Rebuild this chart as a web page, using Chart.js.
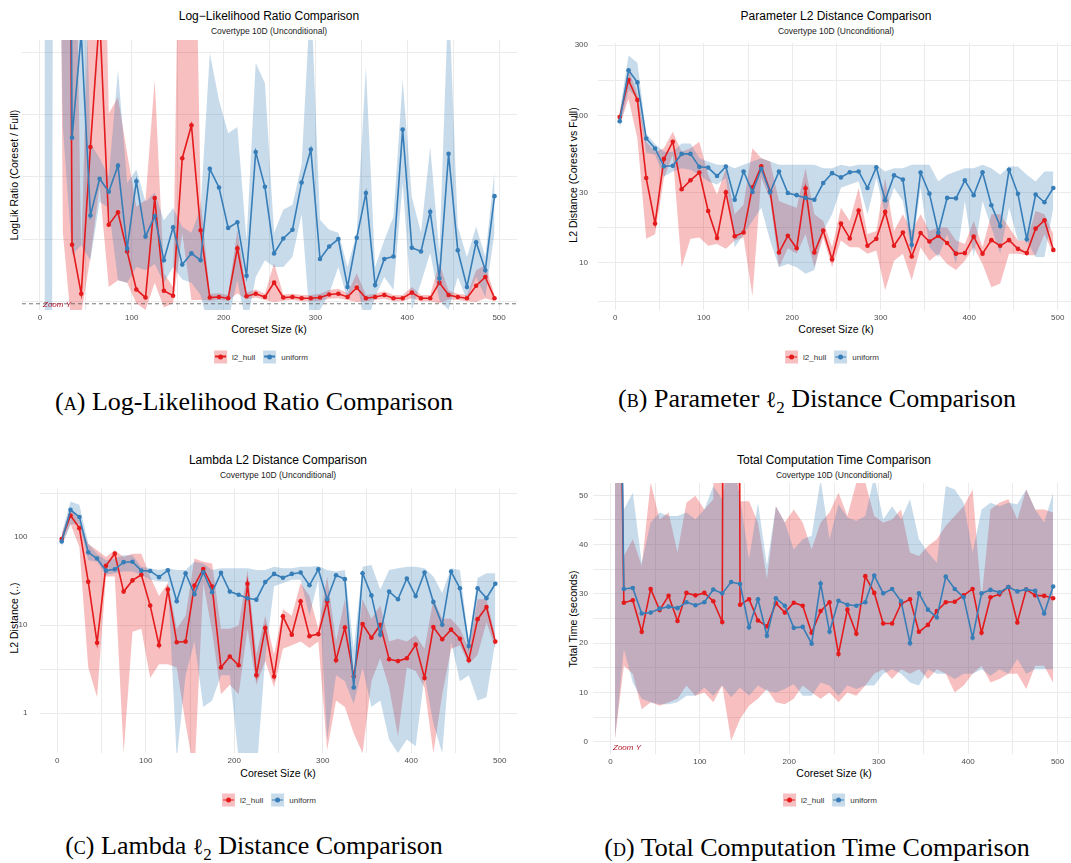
<!DOCTYPE html>
<html>
<head>
<meta charset="utf-8">
<script src="https://cdn.jsdelivr.net/npm/chart.js@4.4.1/dist/chart.umd.min.js"></script>
<style>
  body { margin:0; width:1071px; height:863px; overflow:hidden; background:#fff; position:relative;
         font-family:"Liberation Sans", Arial, sans-serif; }
  .abs { position:absolute; white-space:nowrap; transform:translate(-50%,-50%); }
  .title { font-size:12px; color:#000; }
  .sub { font-size:8.5px; color:#1a1a1a; }
  .axt { font-size:10.5px; color:#000; }
  .yt { transform:translate(-50%,-50%) rotate(-90deg); }
  .cap { font-family:"Liberation Serif", serif; font-size:26px; color:#000; }
  .sc { font-variant:small-caps; }
  .ell { font-family:"DejaVu Serif", serif; font-size:22px; }
  .legend { display:flex; align-items:center; font-size:8px; color:#333; }
  .sw { width:13px; height:13px; position:relative; margin-right:5px; }
  .sw i { position:absolute; left:1px; right:1px; top:5.7px; height:1.6px; }
  .sw b { position:absolute; left:4px; top:4px; width:5px; height:5px; border-radius:50%; }
  .gap { width:8px; }
  canvas { position:absolute; }
</style>
</head>
<body>

<!-- panel A -->
<div class="abs title" style="left:269px;top:16px">Log−Likelihood Ratio Comparison</div>
<div class="abs sub" style="left:269px;top:31px">Covertype 10D (Unconditional)</div>
<div class="abs axt yt" style="left:14px;top:175px">LogLik Ratio (Coreset / Full)</div>
<div class="abs axt" style="left:269px;top:329px">Coreset Size (k)</div>
<div class="abs legend" style="left:261px;top:356.5px">
  <div class="sw" style="background:rgba(228,26,28,0.28)"><i style="background:#E41A1C"></i><b style="background:#E41A1C"></b></div>l2_hull<div class="gap"></div>
  <div class="sw" style="background:rgba(55,126,184,0.28)"><i style="background:#377EB8"></i><b style="background:#377EB8"></b></div>uniform
</div>
<div class="abs cap" style="left:254px;top:402px">(<span class="sc">a</span>) Log-Likelihood Ratio Comparison</div>
<canvas id="chartA"></canvas>

<!-- panel B -->
<div class="abs title" style="left:836px;top:16px">Parameter L2 Distance Comparison</div>
<div class="abs sub" style="left:836px;top:31px">Covertype 10D (Unconditional)</div>
<div class="abs axt yt" style="left:573px;top:175px">L2 Distance (Coreset vs Full)</div>
<div class="abs axt" style="left:836px;top:329px">Coreset Size (k)</div>
<div class="abs legend" style="left:832px;top:357px">
  <div class="sw" style="background:rgba(228,26,28,0.28)"><i style="background:#E41A1C"></i><b style="background:#E41A1C"></b></div>l2_hull<div class="gap"></div>
  <div class="sw" style="background:rgba(55,126,184,0.28)"><i style="background:#377EB8"></i><b style="background:#377EB8"></b></div>uniform
</div>
<div class="abs cap" style="left:817px;top:401px">(<span class="sc">b</span>) Parameter <span class="ell">ℓ</span><sub style="font-size:17px">2</sub> Distance Comparison</div>
<canvas id="chartB"></canvas>

<!-- panel C -->
<div class="abs title" style="left:278px;top:460px">Lambda L2 Distance Comparison</div>
<div class="abs sub" style="left:278px;top:475px">Covertype 10D (Unconditional)</div>
<div class="abs axt yt" style="left:13.5px;top:618px">L2 Distance (..)</div>
<div class="abs axt" style="left:278px;top:773px">Coreset Size (k)</div>
<div class="abs legend" style="left:269px;top:800px">
  <div class="sw" style="background:rgba(228,26,28,0.28)"><i style="background:#E41A1C"></i><b style="background:#E41A1C"></b></div>l2_hull<div class="gap"></div>
  <div class="sw" style="background:rgba(55,126,184,0.28)"><i style="background:#377EB8"></i><b style="background:#377EB8"></b></div>uniform
</div>
<div class="abs cap" style="left:254px;top:848px">(<span class="sc">c</span>) Lambda <span class="ell">ℓ</span><sub style="font-size:17px">2</sub> Distance Comparison</div>
<canvas id="chartC"></canvas>

<!-- panel D -->
<div class="abs title" style="left:834px;top:460px">Total Computation Time Comparison</div>
<div class="abs sub" style="left:834px;top:475px">Covertype 10D (Unconditional)</div>
<div class="abs axt yt" style="left:572.5px;top:618.5px">Total Time (seconds)</div>
<div class="abs axt" style="left:834px;top:773px">Coreset Size (k)</div>
<div class="abs legend" style="left:830px;top:800px">
  <div class="sw" style="background:rgba(228,26,28,0.28)"><i style="background:#E41A1C"></i><b style="background:#E41A1C"></b></div>l2_hull<div class="gap"></div>
  <div class="sw" style="background:rgba(55,126,184,0.28)"><i style="background:#377EB8"></i><b style="background:#377EB8"></b></div>uniform
</div>
<div class="abs cap" style="left:817px;top:848px">(<span class="sc">d</span>) Total Computation Time Comparison</div>
<canvas id="chartD"></canvas>

<script>
// coreset sizes (k)
const coresetK = [5,15,25,35,45,55,65,75,85,95,105,115,125,135,145,155,165,175,185,195,
                  205,215,225,235,245,255,265,275,285,295,305,315,325,335,345,355,365,375,385,395,
                  405,415,425,435,445,455,465,475,485,495];
const xTicks = [0,50,100,150,200,250,300,350,400,450,500];

// (A) log-likelihood ratio, coreset / full (plotted on a zoomed window)
const llrHull   = [30,30,30,0.91,0.12,2.48,4.6,1.23,1.43,0.80,0.19,0.06,1.66,0.17,0.09,2.30,2.83,1.14,0.06,0.07,0.05,0.85,0.08,0.12,0.07,0.30,0.06,0.07,0.05,0.05,0.06,0.11,0.12,0.07,0.22,0.05,0.07,0.10,0.05,0.05,0.14,0.05,0.05,0.30,0.10,0.07,0.05,0.25,0.39,0.05];
const llrHullLo = [20,20,1.1,-0.5,-0.2,0.71,1.84,0.23,0.34,0.30,-0.03,-0.14,0.30,-0.10,-0.03,1.10,0.02,0.02,0.01,0.02,0.01,0.13,0.03,0.06,0.02,-0.01,0.01,0.02,0.00,0.00,0.01,0.04,0.05,0.02,-0.01,0.00,0.02,0.04,0.00,0.00,0.05,0.00,0.00,-0.03,0.03,0.02,0.00,-0.01,0.05,0.00];
const llrHullHi = [40,40,40,10,0.77,6,10,3.02,3.28,2.38,1.52,1.63,3.56,0.45,0.23,10,10,1.63,0.12,0.13,0.10,1.15,0.14,0.19,0.12,0.61,0.11,0.12,0.10,0.10,0.12,0.18,0.20,0.13,0.45,0.10,0.12,0.16,0.10,0.10,0.23,0.10,0.10,0.61,0.17,0.12,0.10,0.50,0.58,0.10];
const llrUnif   = [30,30,30,2.63,4.3,1.38,1.97,1.76,2.18,0.85,1.93,1.04,1.37,0.66,1.19,0.59,0.77,0.66,2.13,1.83,1.18,1.27,0.41,2.40,1.84,0.77,1.01,1.15,1.91,2.44,0.68,0.88,1.00,0.23,1.02,1.74,0.26,0.68,0.72,2.76,0.86,0.80,1.44,0.37,2.37,0.82,0.23,0.95,0.50,1.69];
const llrUnifLo = [-60,12,2.8,0.75,0.9,0.66,1.6,1.5,0.34,0.30,0.55,0.50,0.60,0.30,0.55,0.35,0.30,0.10,-0.5,-0.5,-0.3,0.34,-0.4,0.39,0.66,0.55,0.55,0.71,1.40,-0.5,-0.14,0.13,0.55,0.02,0.30,-0.4,0.07,0.39,0.18,1.90,-0.14,0.30,0.78,0.02,-0.14,0.39,0.02,0.39,0.07,1.10];
const llrUnifHi = [60,60,40,40,8,2.54,2.3,2.0,3.72,1.90,2.12,1.60,1.75,1.30,1.50,1.20,1.10,1.50,3.99,3.23,2.70,2.80,0.98,3.83,3.51,1.10,1.47,1.55,2.20,5,1.31,1.15,1.10,0.55,1.10,3.77,0.55,0.98,1.36,3.56,1.68,1.10,2.48,0.78,5,1.20,0.71,1.20,0.71,2.10];
const llrReference = -0.04;

// (B) parameter L2 distance, coreset vs full
const paramHull   = [97.4,173.5,127.3,37.5,18.4,50.6,66.2,31.5,36.2,40.9,22.4,14.7,30.0,15.1,16.0,32.5,45.1,30.5,11.7,15.2,12.5,32.0,11.7,16.5,10.5,18.4,14.6,22.6,13.0,14.5,22.1,13.0,16.0,11.0,15.9,13.9,15.2,13.6,11.5,11.6,15.0,11.5,14.2,13.0,14.2,12.4,11.6,17.0,19.4,12.2];
const paramHullLo = [85.7,129,70,14.5,15.6,37.5,53.8,9.3,14.5,14.8,13.0,13.4,12.4,14.1,14.8,5.9,37.5,27,9.3,12.5,11.5,15.6,9.3,14.8,9.3,14.1,12.7,12.7,11.5,12.1,6.5,10.3,11.5,7.6,12.7,10.3,11.5,9.8,8.9,10.3,12.7,9.8,6.8,7.2,11.5,11.5,11.2,11.2,15.6,11.5];
const paramHullHi = [105,206,140,66.2,56.7,59.7,77.3,56.7,59.7,66.2,39.5,29.0,43.8,21.3,24.8,59.7,51.2,48.6,26.2,24.8,23.6,43.8,21.3,19.2,12.7,23.6,19.2,32.2,15.6,16.4,37.5,16.4,21.3,16.4,21.3,16.4,17.3,17.3,14.1,13.4,19.2,12.7,21.3,21.3,17.3,14.1,14.1,22.4,21.3,15.6];
const paramUnif   = [91.1,202.6,167.4,69.6,59.6,45.1,45.4,54.7,54.7,44.7,44.2,38.7,44.9,26.7,41.6,30.2,43.4,30.0,41.6,29.7,28.7,27.5,26.7,34.7,40.5,37.9,41.1,41.6,32.1,44.4,26.5,39.1,36.6,13.2,40.9,29.4,16.0,27.5,27.3,36.2,28.7,41.1,24.5,17.7,42.7,29.3,14.4,29.0,25.7,32.1];
const paramUnifLo = [81,150,130,56,54,38.5,41.6,43.8,42.7,39.5,35.6,33.9,37.5,12.7,15.6,19.2,23.6,14.1,9.3,9.8,9.3,8.4,8.9,16.4,21.3,32.2,33.9,35.6,21.3,37.5,21.3,32.2,26.2,11.5,32.2,12.7,10.9,15.6,9.8,26.2,10.9,26.2,17.3,11.5,23.6,14.1,14.1,10.9,10.9,23.6];
const paramUnifHi = [105,255,228,75,64,56.7,56.7,64.5,64.5,51.2,48.6,46.1,46.1,43.8,46.1,48.6,51.2,48.6,46.1,46.1,46.1,46.1,46.1,43.8,43.8,46.1,45.0,46.1,46.1,46.1,41.6,43.8,43.8,46.1,46.1,46.1,35.6,39.5,41.6,43.8,43.8,46.1,43.8,39.5,45.0,45.0,39.5,35.6,41.6,41.6];
const paramMajor = [10,30,100,300];
const paramMinor = [5.477,17.32,54.77,173.2];

// (C) lambda L2 distance
const lambdaHull   = [95.7,177,127,31.2,6.3,47.5,65.1,24.1,32.3,37.4,16.7,5.9,25.4,6.4,6.5,28.2,43.6,27.5,3.3,4.4,3.5,29.6,2.7,9.3,2.6,12.6,7.8,18.7,7.5,7.9,18.7,4.0,9.4,2.6,10.3,7.2,10.1,4.1,3.9,4.2,6.0,2.5,9.5,6.9,8.9,7.0,4.0,11.7,16.1,6.5];
const lambdaHullLo = [84.2,141,77.3,3.3,1.51,35.8,35.8,0.35,8.4,9.1,2.5,3.6,3.6,3.3,0.76,0.2,30.2,8.4,1.64,2.1,1.64,9.1,2.1,3.9,1.95,5.4,5.9,6.5,5.5,6.5,0.38,1.39,1.17,0.59,0.35,2.3,4.2,1.95,0.54,3.3,3.0,1.95,0.35,1.64,5.4,5.9,3.6,4.6,10.8,5.4];
const lambdaHullHi = [109,216,153,84.2,71.0,59.8,71.0,59.8,65.1,65.1,35.8,21.4,30.2,9.1,12.8,57.3,52.6,50.4,9.1,9.1,9.9,42.5,4.6,12.8,4.6,15.2,12.8,30.2,21.4,9.1,35.8,6.5,19.7,3.0,19.7,11.8,16.7,6.5,7.0,6.5,7.7,5.4,19.7,11.8,11.8,9.1,5.4,19.7,19.7,7.7];
const lambdaUnif   = [89.4,205,170,67.4,57.3,41.7,43.2,52.1,52.6,41.7,41.4,35.2,42.1,18.7,39.0,22.5,40.0,23.7,39.3,24.1,22.2,20.2,19.5,30.9,38.3,34.6,38.3,39.7,28.4,43.2,19.7,37.0,33.4,1.95,39.0,21.8,7.8,24.1,19.7,34.0,21.4,39.7,18.4,10.1,40.7,26.3,5.8,26.3,20.3,29.6];
const lambdaUnifLo = [77.3,141,141,54.9,52.6,37.4,39.0,40.7,40.7,37.4,32.9,31.5,31.5,0.3,2.7,6.5,1.17,1.39,2.7,2.7,0.3,0.2,0.2,4.2,27.7,30.2,32.9,32.9,12.8,32.9,0.5,2.7,2.3,1.27,3.3,1.17,1.39,0.5,0.35,0.5,0.42,2.7,0.76,0.35,6.5,2.3,2.7,1.39,1.51,6.5];
const lambdaUnifHi = [109,256,235,84.2,65.1,54.9,57.3,62.4,62.4,46.3,44.3,42.5,44.3,42.5,42.5,52.6,50.4,42.5,44.3,44.3,44.3,44.3,42.5,42.5,46.3,44.3,44.3,46.3,46.3,47.0,42.5,40.7,42.5,5.4,46.3,48.3,25.4,42.5,44.3,46.3,46.3,44.3,35.8,23.3,44.3,42.5,6.5,34.3,39.0,39.0];
const lambdaMajor = [1,10,100];
const lambdaMinor = [3.162,31.62,316.2];

// (D) total computation time in seconds (zoomed window)
const timeHull   = [160,28.2,28.7,22.3,31.0,26.7,29.6,24.5,30.2,29.7,30.2,28.5,24.3,600,27.8,28.9,24.6,23.4,28.1,26.2,28.2,27.6,22.1,26.5,28.3,17.8,26.8,21.9,33.6,30.2,24.0,24.0,28.0,28.9,22.3,23.7,26.5,28.3,28.4,29.7,31.0,22.1,29.3,29.9,31.4,24.2,30.9,29.7,29.6,29.1];
const timeHullLo = [0.5,15.4,13.8,6.6,8.0,7.3,8.0,8.7,11.4,9.3,10.0,8.0,11.4,0.2,4.6,7.3,8.7,10.7,8.0,7.6,8.7,11.4,10.0,8.7,10.0,8.0,10.0,9.3,11.4,13.8,14.7,12.7,14.7,13.8,14.7,12.7,14.7,13.8,10.0,11.4,13.8,15.4,12.0,12.7,13.8,13.8,10.7,15.4,15.4,12.0];
const timeHullHi = [200,37.7,41.1,35.7,52.6,45.1,46.5,38.4,48.5,49.9,47.1,49.2,200,400,48.8,48.8,44.5,33.0,47.8,44.5,47.1,44.5,39.0,44.5,46.5,50.5,45.8,52.6,52.6,45.8,44.5,45.1,47.1,38.4,37.7,39.7,41.1,43.8,45.8,47.8,51.2,28.9,47.1,48.5,49.2,45.1,51.2,47.1,47.1,46.5];
const timeUnif   = [170,31.0,31.2,26.0,26.2,27.0,27.4,27.1,28.3,27.7,28.3,30.9,30.1,32.4,32.0,23.2,28.9,21.5,29.1,27.6,23.1,23.3,19.9,32.1,22.3,28.6,27.8,27.6,28.3,33.7,30.1,31.0,28.5,20.0,30.1,26.8,25.2,33.5,31.0,29.3,21.1,30.1,30.8,30.3,31.4,30.5,30.9,30.6,26.0,31.5];
const timeUnifLo = [0.5,18.8,12.0,8.7,8.0,7.6,7.6,8.0,9.3,9.3,11.0,9.3,11.4,9.0,11.0,9.3,11.4,10.3,10.0,10.7,11.7,9.3,9.3,12.0,11.4,9.3,11.4,10.7,11.4,11.4,13.8,14.7,13.8,12.0,11.4,14.7,13.8,13.8,12.7,13.8,13.8,14.7,13.4,14.7,13.8,16.8,13.8,14.7,14.7,14.7];
const timeUnifHi = [200,47.1,50.5,36.3,44.5,46.5,45.8,45.8,46.5,45.1,47.1,51.9,49.2,60,49.2,37.0,48.5,35.7,47.8,44.5,39.0,41.1,41.8,53.2,41.1,48.2,45.5,44.8,45.8,53.9,45.1,47.8,45.1,49.2,41.1,38.4,36.3,51.9,51.2,48.5,38.4,47.1,48.5,47.8,48.5,48.2,51.2,47.1,44.5,50.5];
const timeTicks = [0,5,10,15,20,25,30,35,40,45,50];

const RED = '#E41A1C', BLUE = '#377EB8';
const RED_FILL = 'rgba(228,26,28,0.28)', BLUE_FILL = 'rgba(55,126,184,0.28)';
const TICK_COLOR = '#4d4d4d';
const GRID = '#ebebeb';

const pts = vals => coresetK.map((k, i) => ({ x: k, y: vals[i] }));

// small "Zoom Y" note (and optional dashed reference) drawn over the plot
const zoomNote = {
  id: 'zoomNote',
  afterDatasetsDraw(chart, args, opts) {
    const ctx = chart.ctx, a = chart.chartArea, ys = chart.scales.y;
    const py = ys.getPixelForValue(opts.y);
    ctx.save();
    ctx.beginPath(); ctx.rect(a.left, a.top, a.right - a.left, a.bottom - a.top); ctx.clip();
    if (opts.dashed) {
      ctx.strokeStyle = '#555'; ctx.lineWidth = 0.8; ctx.setLineDash([4, 3]);
      ctx.beginPath(); ctx.moveTo(a.left, py); ctx.lineTo(a.right, py); ctx.stroke();
    }
    ctx.setLineDash([]);
    ctx.font = 'italic 8px "Liberation Sans", Arial, sans-serif';
    ctx.fillStyle = '#B2182B';
    ctx.textBaseline = 'middle';
    ctx.fillText('Zoom Y', a.left + opts.dx, py + (opts.dy || 0));
    ctx.restore();
  }
};

function panel(id, box, yScale, hull, unif, note) {
  const pad = 12, H = 20;
  const cv = document.getElementById(id);
  const left = Math.round(box.L - box.yw - pad), top = Math.round(box.T - pad);
  cv.width = Math.round(box.R - box.L + box.yw + 2 * pad);
  cv.height = Math.round(box.B - box.T + H + 2 * pad);
  cv.style.left = left + 'px';
  cv.style.top = top + 'px';
  const band = (vals, extra) => Object.assign({ data: pts(vals), borderWidth: 0, pointRadius: 0, fill: false }, extra);
  const line = (vals, color, order) => ({
    data: pts(vals), borderColor: color, backgroundColor: color, borderWidth: 1.6,
    pointRadius: 2.3, pointBorderWidth: 0, pointBackgroundColor: color, fill: false, order
  });
  const yw = box.yw;
  const plugins = note ? [zoomNote] : [];
  return new Chart(cv, {
    type: 'line',
    data: {
      datasets: [
        band(hull.hi, { fill: '+1', backgroundColor: RED_FILL, order: 10 }),
        band(hull.lo, { order: 10 }),
        band(unif.hi, { fill: '+1', backgroundColor: BLUE_FILL, order: 9 }),
        band(unif.lo, { order: 9 }),
        line(hull.v, RED, 2),
        line(unif.v, BLUE, 1)
      ]
    },
    options: {
      responsive: false, animation: false, devicePixelRatio: 1,
      layout: { padding: pad },
      elements: { line: { tension: 0 } },
      plugins: { legend: { display: false }, tooltip: { enabled: false }, zoomNote: note || {} },
      scales: {
        x: {
          type: 'linear', min: -19.5, max: 519.5,
          afterBuildTicks: s => { s.ticks = xTicks.map(v => ({ value: v })); },
          afterFit: s => { s.height = H; },
          ticks: { autoSkip: false, maxRotation: 0, padding: 3, color: TICK_COLOR,
                   font: { size: 8, family: '"Liberation Sans", Arial, sans-serif' },
                   callback: v => (v % 100 === 0 ? String(v) : '') },
          grid: { color: GRID, lineWidth: 1, drawTicks: false },
          border: { display: false }
        },
        y: Object.assign({
          afterFit: s => { s.width = yw; },
          grid: { color: GRID, lineWidth: 1, drawTicks: false },
          border: { display: false }
        }, yScale)
      }
    },
    plugins
  });
}

const tickFont = { size: 8, family: '"Liberation Sans", Arial, sans-serif' };

// (A)
panel('chartA', { L: 21.7, T: 40, R: 516.7, B: 310, yw: 0 },
  { type: 'linear', min: -0.14, max: 4.2,
    afterBuildTicks: s => { s.ticks = [0, 1, 2, 3, 4].map(v => ({ value: v })); },
    ticks: { display: false } },
  { v: llrHull, lo: llrHullLo, hi: llrHullHi },
  { v: llrUnif, lo: llrUnifLo, hi: llrUnifHi },
  { y: llrReference, dx: 21, dy: 1.3, dashed: true });

// (B)
panel('chartB', { L: 598.3, T: 40, R: 1075, B: 310, yw: 30 },
  { type: 'logarithmic', min: 4.765, max: 310.9,
    afterBuildTicks: s => { s.ticks = paramMajor.concat(paramMinor).sort((a, b) => a - b).map(v => ({ value: v })); },
    ticks: { autoSkip: false, padding: 10, color: TICK_COLOR, font: tickFont,
             callback: v => (paramMajor.includes(v) ? String(v) : '') } },
  { v: paramHull, lo: paramHullLo, hi: paramHullHi },
  { v: paramUnif, lo: paramUnifLo, hi: paramUnifHi });

// (C)
panel('chartC', { L: 40, T: 483.3, R: 516.7, B: 753.5, yw: 30 },
  { type: 'logarithmic', min: 0.3509, max: 360.9,
    afterBuildTicks: s => { s.ticks = lambdaMajor.concat(lambdaMinor).sort((a, b) => a - b).map(v => ({ value: v })); },
    ticks: { autoSkip: false, padding: 12.5, color: TICK_COLOR, font: tickFont,
             callback: v => (lambdaMajor.includes(v) ? String(v) : '') } },
  { v: lambdaHull, lo: lambdaHullLo, hi: lambdaHullHi },
  { v: lambdaUnif, lo: lambdaUnifLo, hi: lambdaUnifHi });

// (D)
panel('chartD', { L: 593.3, T: 483.3, R: 1075, B: 754, yw: 25 },
  { type: 'linear', min: -2.5, max: 52.5,
    afterBuildTicks: s => { s.ticks = timeTicks.map(v => ({ value: v })); },
    ticks: { autoSkip: false, padding: 5, color: TICK_COLOR, font: tickFont,
             callback: v => (v % 10 === 0 ? String(v) : '') } },
  { v: timeHull, lo: timeHullLo, hi: timeHullHi },
  { v: timeUnif, lo: timeUnifLo, hi: timeUnifHi },
  { y: -1.3, dx: 20, dy: 0, dashed: false });
</script>
</body>
</html>
